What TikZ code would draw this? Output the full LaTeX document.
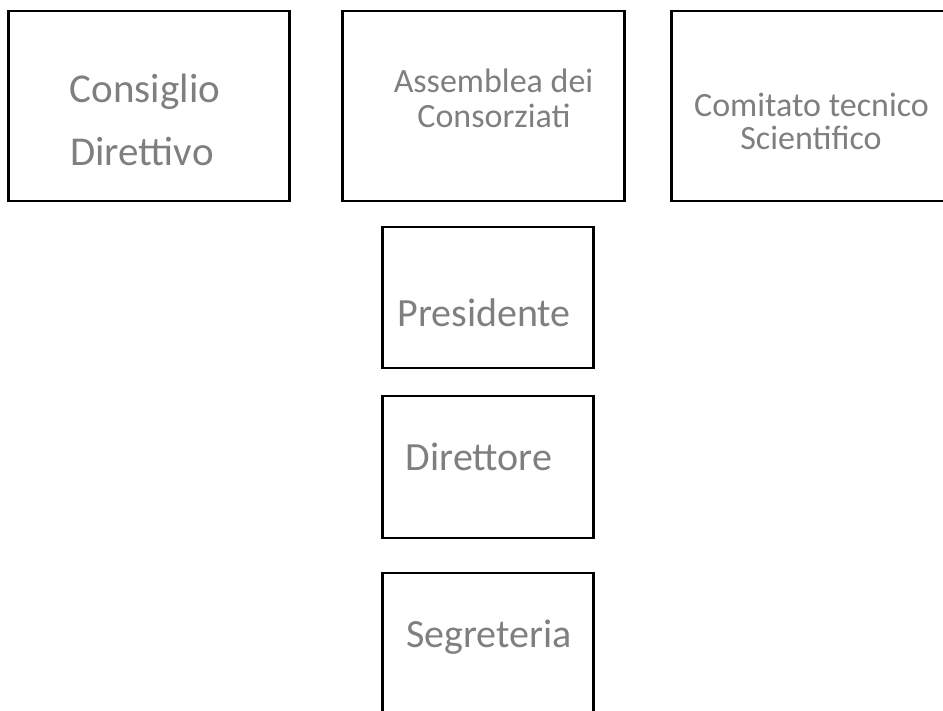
\documentclass[tikz,border=0pt]{standalone}
\usepackage{fontspec}
\setmainfont{Carlito}
\definecolor{txtgray}{HTML}{7F7F7F}
\begin{document}
\begin{tikzpicture}[x=1pt,y=-1pt,
  box/.style={draw=black,line width=1.4pt,inner sep=0pt},
  side/.style={line width=2.4pt,draw=black},
  big/.style={text=txtgray,anchor=base,inner sep=0pt,font=\fontsize{41}{41}\selectfont},
  mid/.style={text=txtgray,anchor=base,inner sep=0pt,font=\fontsize{34}{34}\selectfont},
  pers/.style={text=txtgray,anchor=base,inner sep=0pt,font=\fontsize{40}{40}\selectfont}]
\useasboundingbox (0,0) rectangle (943,711);
% boxes
\node[box,minimum width=280pt,minimum height=190pt] (cd) at (149,106) {};
\node[box,minimum width=281pt,minimum height=190pt] (ac) at (483.5,106) {};
\node[box,minimum width=281pt,minimum height=190pt] (ct) at (812.5,106) {};
\node[box,minimum width=210pt,minimum height=141pt] (pr) at (488,297.5) {};
\node[box,minimum width=210pt,minimum height=142pt] (di) at (488,467) {};
\node[box,minimum width=210pt,minimum height=142pt] (se) at (488,644) {};
% thicker sides
\foreach \n in {cd,ac,ct,pr,di,se}{
  \draw[side] (\n.north west) -- (\n.south west);
  \draw[side] (\n.north east) -- (\n.south east);
}
% texts
\node[big] (cd1) at (145,103) {Consiglio};
\node[big] (cd2) at (142,166) {Direttivo};
\node[mid] (ac1) at (493.5,93) {Assemblea dei};
\node[mid] (ac2) at (494,128) {Consorziati};
\node[mid] (ct1) at (811.5,117) {Comitato tecnico};
\node[mid] (ct2) at (811,150) {Scientifico};
\node[pers] (pr1) at (484,327) {Presidente};
\node[pers] (di1) at (479,470) {Direttore};
\node[pers] (se1) at (489,647) {Segreteria};
\end{tikzpicture}
\end{document}
